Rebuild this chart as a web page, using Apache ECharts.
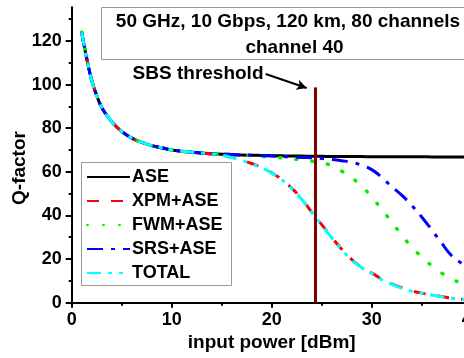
<!DOCTYPE html>
<html><head><meta charset="utf-8">
<script src="https://cdn.jsdelivr.net/npm/echarts@6/dist/echarts.min.js"></script>
<style>html,body{margin:0;padding:0;background:#fff}#c{width:464px;height:358px}</style>
</head><body><div id="c"></div>
<script>
// input power [dBm]
const xPower = [1,1.5,2,2.5,3,3.5,4,5,6,7,8,9,10,12,14,15,16,17,18,19,20,21,22,23,24,25,26,27,28,29,30,31,32,33,34,35,36,37,38,39,40];
const qASE   = [124,112,102,95,89.5,86,83,78.5,75.5,73.5,72,71,70,69,68.3,68.1,67.9,67.7,67.6,67.5,67.4,67.3,67.2,67.2,67.1,67.1,67,67,67,67,66.9,66.9,66.9,66.9,66.9,66.9,66.8,66.8,66.8,66.8,66.8];
const qXPM   = [124,112,102,95,89.5,86,83,78.5,75.5,73.5,72,71,70,69,68.2,67.6,66.6,65.3,63.8,62,59.5,56.5,52.5,47.5,41.5,35.8,30,24.5,19.8,16.2,13.6,10.8,8.6,6.9,5.4,4.4,3.6,2.8,2.1,1.6,1.3];
const qFWM   = [124,112,102,95,89.5,86,83,78.5,75.5,73.5,72,71,70,69,68.3,68.1,67.9,67.6,67.4,67.1,66.8,66.4,65.9,65.5,64.9,64.2,62.7,60.3,57.3,53.3,48.5,42.7,37,31,25.6,21,17,13.6,11,8.8,7];
const qSRS   = [124,112,102,95,89.5,86,83,78.5,75.5,73.5,72,71,70,69,68.3,68.1,67.9,67.7,67.6,67.4,67.2,67,66.8,66.6,66.4,66.1,65.7,65.1,64.3,63,61,57.5,53.2,49.3,44.6,39.3,33.4,27.3,21.5,18,14.5];
const qTOTAL = [124,112,102,95,89.5,86,83,78.5,75.5,73.5,72,71,70,69,68.2,67.6,66.5,65.2,63.7,61.9,59.4,56.4,52.4,47.4,41.4,35.6,29.8,24.3,19.6,16,13.4,10.6,8.4,6.7,5.3,4.3,3.5,2.7,2,1.5,1.2];
const seriesNames = ['ASE','XPM+ASE','FWM+ASE','SRS+ASE','TOTAL'];
const yMajorTicks = [0,20,40,60,80,100,120];
const yMinorTicks = [10,30,50,70,90,110,130];
const sbsThresholdX = 24.4;
const sbsLineTop = 98.7;
const arrowFrom = [19.4,104.8];
const arrowTo = [23.5,98.4];
const boxLine1 = '50 GHz, 10 Gbps, 120 km, 80 channels';
const boxLine2 = 'channel 40';
const sbsLabel = 'SBS threshold';

const FONT = '"Liberation Sans", Arial, sans-serif';
const chart = echarts.init(document.getElementById('c'), null, {renderer:'canvas'});
const pair = arr => xPower.map((x,i)=>[x,arr[i]]);
const mk = (name, arr, color, type, extra) => Object.assign({
  name, type:'line', data: pair(arr), showSymbol:false, symbol:'none', smooth:true,
  animation:false, lineStyle:{color, width:3, type}, itemStyle:{color}
}, extra||{});

chart.setOption({
  animation:false,
  textStyle:{fontFamily:FONT},
  grid:{left:71.7, right:-7.7, top:7.3, bottom:55.3, containLabel:false, outerBoundsMode:'none'},
  xAxis:{type:'value', min:0, max:40, interval:10,
    axisLine:{lineStyle:{color:'#000', width:2}},
    axisTick:{show:true, length:5, lineStyle:{color:'#000', width:2}},
    minorTick:{show:true, splitNumber:2, length:3, lineStyle:{color:'#000', width:2}},
    splitLine:{show:false},
    axisLabel:{color:'#000', fontSize:18, fontWeight:'bold', fontFamily:FONT, margin:8, hideOverlap:false},
    name:'input power [dBm]', nameLocation:'middle', nameGap:30,
    nameTextStyle:{color:'#000', fontSize:19, fontWeight:'bold', fontFamily:FONT}
  },
  yAxis:[{type:'value', min:0, max:135.4, position:'left',
    axisLine:{show:true, lineStyle:{color:'#000', width:2}},
    axisTick:{show:true, length:6, customValues:yMajorTicks, lineStyle:{color:'#000', width:2}},
    splitLine:{show:false},
    axisLabel:{color:'#000', fontSize:18, fontWeight:'bold', fontFamily:FONT, margin:10, customValues:yMajorTicks}
  },{type:'value', min:0, max:135.4, position:'left', offset:0,
    axisLine:{show:false},
    axisTick:{show:true, length:3, customValues:yMinorTicks, lineStyle:{color:'#000', width:2}},
    splitLine:{show:false},
    axisLabel:{show:false}
  }],
  legend:{data:seriesNames, orient:'vertical', left:86, top:167, padding:0,
    itemWidth:43, itemHeight:14, itemGap:4,
    itemStyle:{opacity:0},
    textStyle:{color:'#000', fontSize:18, fontWeight:'bold', fontFamily:FONT, lineHeight:20, padding:[0,0,0,-3]}
  },
  series:[
    mk(seriesNames[0], qASE, '#000000', 'solid'),
    mk(seriesNames[1], qXPM, '#ff0000', [12,12]),
    mk(seriesNames[2], qFWM, '#00ee00', [1,15], {lineStyle:{color:'#00ee00', width:3.5, type:[1,15], cap:'round'}}),
    mk(seriesNames[3], qSRS, '#0000ff', [16,8,4,8]),
    mk(seriesNames[4], qTOTAL, '#00ffff', [14,7,4,7,4,7]),
    {name:'annot', type:'line', data:[], animation:false, z:5,
     markLine:{silent:true, animation:false, label:{show:false}, symbol:['none','none'],
       data:[
         [{coord:[sbsThresholdX,0], lineStyle:{color:'#800000', width:3, type:'solid'}}, {coord:[sbsThresholdX,sbsLineTop]}],
         [{coord:arrowFrom, symbol:'none', lineStyle:{color:'#000', width:2, type:'solid'}}, {coord:arrowTo, symbol:'arrow', symbolSize:[8,10]}]
       ]}
    }
  ],
  graphic:[
    {type:'rect', shape:{x:101.5, y:7.5, width:400, height:52}, style:{fill:'#fff', stroke:'#999', lineWidth:1}, z:1},
    {type:'text', x:288, y:22, style:{text:boxLine1, fill:'#000', font:'bold 19px '+FONT, align:'center', verticalAlign:'middle'}, z:2},
    {type:'text', x:294.5, y:48, style:{text:boxLine2, fill:'#000', font:'bold 19px '+FONT, align:'center', verticalAlign:'middle'}, z:2},
    {type:'text', x:263.5, y:73.5, style:{text:sbsLabel, fill:'#000', font:'bold 19px '+FONT, align:'right', verticalAlign:'middle'}, z:2},
    {type:'rect', shape:{x:81.5, y:162.5, width:150, height:123}, style:{fill:'rgba(255,255,255,0)', stroke:'#999', lineWidth:1}, z:1},
    {type:'text', x:20, y:168, rotation:Math.PI/2, style:{text:'Q-factor', fill:'#000', font:'bold 19px '+FONT, align:'center', verticalAlign:'middle'}, z:2}
  ]
});
</script></body></html>
